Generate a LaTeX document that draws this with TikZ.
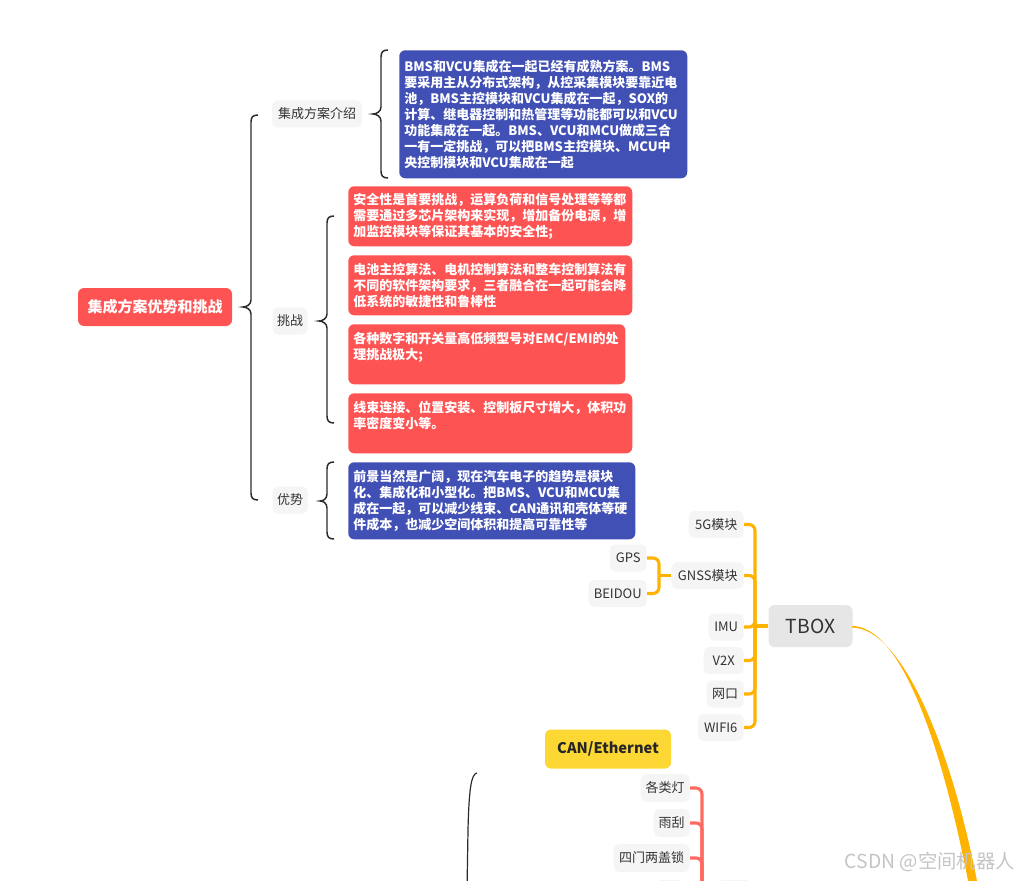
\documentclass[tikz,border=0pt]{standalone}
\usepackage{fontspec}
\setmainfont{Noto Sans CJK SC}
\definecolor{cred}{HTML}{FD5353}
\definecolor{cblue}{HTML}{4050B5}
\definecolor{cgray}{HTML}{F5F5F5}
\definecolor{ctbox}{HTML}{E6E6E6}
\definecolor{ctxt}{HTML}{333333}
\definecolor{corange}{HTML}{FDB300}
\definecolor{csalm}{HTML}{FF6B60}
\definecolor{cyel}{HTML}{FDD835}
\definecolor{cdark}{HTML}{2B2B2B}
\definecolor{cwm}{HTML}{C4C4C4}
\newcommand{\mybrace}[5]{%
  \draw[bracel] ({#1+7},#2) .. controls ({#1+2},#2) and (#1,{#2+2}) .. (#1,{#2+7})
    -- (#1,{#3-7}) .. controls (#1,{#3-2}) and ({#5+3},#3) .. (#5,#3)
    .. controls ({#5+3},#3) and (#1,{#3+2}) .. (#1,{#3+7})
    -- (#1,{#4-7}) .. controls (#1,{#4-2}) and ({#1+2},#4) .. ({#1+7},#4);}
\tikzset{
  bigbox/.style={rounded corners=4.5pt, align=left, inner xsep=3.75pt, inner ysep=3pt,
    font=\bfseries\fontsize{9.75}{12}\selectfont, text=white, anchor=north west},
  redbig/.style={bigbox, fill=cred},
  bluebig/.style={bigbox, fill=cblue},
  subn/.style={fill=cgray, rounded corners=4pt, text=ctxt, font=\fontsize{9.75}{11}\selectfont,
    minimum height=20.25pt, inner xsep=0pt, inner ysep=0pt},
  rootn/.style={fill=cred, text=white, rounded corners=4.5pt, minimum width=115.5pt,
    minimum height=28.5pt, font=\bfseries\fontsize{11.25}{13}\selectfont},
  tboxn/.style={fill=ctbox, text=ctxt, rounded corners=4.5pt, minimum width=63pt,
    minimum height=31.5pt, font=\fontsize{14.5}{16}\selectfont},
  yeln/.style={fill=cyel, text=black!85, rounded corners=4.5pt, minimum width=94.5pt,
    minimum height=29.25pt, font=\bfseries\fontsize{11}{12}\selectfont},
  bracel/.style={draw=cdark, line width=1.1pt},
  orng/.style={draw=corange, line width=2.3pt, rounded corners=4.5pt},
  salm/.style={draw=csalm, line width=2.3pt, rounded corners=4.5pt},
}
\begin{document}
\begin{tikzpicture}[x=0.75pt,y=-0.75pt]
\useasboundingbox (0,0) rectangle (1018,881);
\clip (0,0) rectangle (1018,881);

% root and first level
\node[rootn] (root) at (155,307) {集成方案优势和挑战};
\node[subn, minimum width=67.5pt] (intro) at (317,114) {集成方案介绍};
\node[subn, minimum width=26.25pt] (tz) at (290,321) {挑战};
\node[subn, minimum width=26.25pt] (ys) at (290,500) {优势};

% content boxes
\node[bluebig, text width=208.5pt, minimum height=96pt] (b1) at (399,50) {BMS和VCU集成在一起已经有成熟方案。BMS\\要采用主从分布式架构，从控采集模块要靠近电\\池，BMS主控模块和VCU集成在一起，SOX的\\计算、继电器控制和热管理等功能都可以和VCU\\功能集成在一起。BMS、VCU和MCU做成三合\\一有一定挑战，可以把BMS主控模块、MCU中\\央控制模块和VCU集成在一起};
\node[redbig, text width=205.5pt, minimum height=45pt] (r1) at (348,186) {安全性是首要挑战，运算负荷和信号处理等等都\\需要通过多芯片架构来实现，增加备份电源，增\\加监控模块等保证其基本的安全性;};
\node[redbig, text width=205.5pt, minimum height=45pt] (r2) at (348,255) {电池主控算法、电机控制算法和整车控制算法有\\不同的软件架构要求，三者融合在一起可能会降\\低系统的敏捷性和鲁棒性};
\node[redbig, text width=200.25pt, minimum height=45pt] (r3) at (348,324) {各种数字和开关量高低频型号对EMC/EMI的处\\理挑战极大;\\ \mbox{}};
\node[redbig, text width=205.5pt, minimum height=45pt] (r4) at (348,393) {线束连接、位置安装、控制板尺寸增大，体积功\\率密度变小等。\\ \mbox{}};
\node[bluebig, text width=207.75pt, minimum height=57.75pt] (b2) at (348,462) {前景当然是广阔，现在汽车电子的趋势是模块\\化、集成化和小型化。把BMS、VCU和MCU集\\成在一起，可以减少线束、CAN通讯和壳体等硬\\件成本，也减少空间体积和提高可靠性等};

% braces
\mybrace{251}{115}{307}{500}{243}
\mybrace{381}{50}{114}{178}{373}
\mybrace{327}{216}{321}{423}{319}
\mybrace{327}{462}{501}{539}{320}

% TBOX branch
\node[tboxn] (tbox) at (810.5,626) {TBOX};
\node[subn, anchor=east, minimum width=41.25pt] (g5) at (744,524.5) {5G模块};
\node[subn, anchor=east, minimum width=54pt] (gnss) at (744,575.5) {GNSS模块};
\node[subn, anchor=east, minimum width=26.25pt] (imu) at (744,627) {IMU};
\node[subn, anchor=east, minimum width=30pt] (v2x) at (744,660.5) {V2X};
\node[subn, anchor=east, minimum width=27.75pt] (wk) at (744,694) {网口};
\node[subn, anchor=east, minimum width=34.5pt] (wifi) at (744,727.5) {WIFI6};
\node[subn, anchor=east, minimum width=27.75pt] (gps) at (647,558) {GPS};
\node[subn, anchor=east, minimum width=43.5pt] (bd) at (647,593.5) {BEIDOU};

\coordinate (tj) at (755,626);
\draw[orng] (tbox.west) -- (tj);
\foreach \n in {g5,gnss,imu,v2x,wk,wifi} \draw[orng] (\n.east) -| (tj);
\coordinate (gj) at (659,575.5);
\draw[orng] (gnss.west) -- (gj);
\draw[orng] (gps.east) -| (gj);
\draw[orng] (bd.east) -| (gj);

% big tapered connector
\fill[corange] (852,626) .. controls (900,626) and (941,740) .. (969,886)
  -- (978,886) .. controls (950,740) and (900,627.6) .. (852,627.6) -- cycle;

% CAN/Ethernet branch
\node[yeln] (can) at (608,749) {CAN/Ethernet};
\node[subn, anchor=east, minimum width=36.75pt, minimum height=21pt] (c1) at (690,788) {各类灯};
\node[subn, anchor=east, minimum width=27pt, minimum height=21pt] (c2) at (690,823) {雨刮};
\node[subn, anchor=east, minimum width=57pt, minimum height=21pt] (c3) at (690,858) {四门两盖锁};
\fill[cgray, rounded corners=3pt] (657,880) rectangle (683,905);
\fill[cgray, rounded corners=3pt] (718,880) rectangle (750,905);
\coordinate (sj) at (702,900);
\foreach \n in {c1,c2,c3} \draw[salm] (\n.east) -| (sj);

\draw[cdark, line width=0.9pt] (477,773) .. controls (471,774) and (469,790) .. (468,830) -- (467,890);

% watermark
\node[anchor=east, text=cwm, font=\fontsize{14.5}{15}\selectfont, inner sep=0pt] (wm) at (1015,862) {CSDN @空间机器人};
\end{tikzpicture}
\end{document}
